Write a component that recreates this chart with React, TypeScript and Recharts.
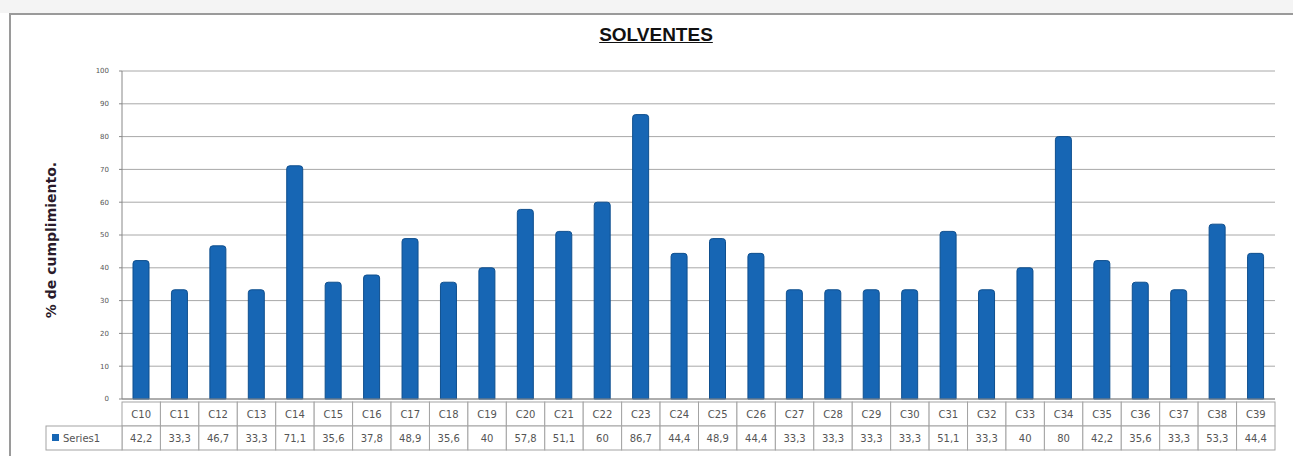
import { BarChart, Bar, XAxis, YAxis, CartesianGrid } from "recharts";

const categories = [
  "C10", "C11", "C12", "C13", "C14", "C15", "C16", "C17", "C18", "C19",
  "C20", "C21", "C22", "C23", "C24", "C25", "C26", "C27", "C28", "C29",
  "C30", "C31", "C32", "C33", "C34", "C35", "C36", "C37", "C38", "C39",
];

const series1 = [
  42.2, 33.3, 46.7, 33.3, 71.1, 35.6, 37.8, 48.9, 35.6, 40,
  57.8, 51.1, 60, 86.7, 44.4, 48.9, 44.4, 33.3, 33.3, 33.3,
  33.3, 51.1, 33.3, 40, 80, 42.2, 35.6, 33.3, 53.3, 44.4,
];

const yTicks = [0, 10, 20, 30, 40, 50, 60, 70, 80, 90, 100];

const seriesName = "Series1";
const chartTitle = "SOLVENTES";
const yTitle = "% de cumplimiento.";

const W = 1293;
const H = 456;
const PLOT_LEFT = 122;
const PLOT_RIGHT = 1275;
const BAND = (PLOT_RIGHT - PLOT_LEFT) / categories.length;

const BLUE = "#1766b4";
const BORDER = "#a3a3a3";

const fmt = (v: number) =>
  Number.isInteger(v) ? String(v) : v.toFixed(1).replace(".", ",");

const data = categories.map((name, i) => ({ name, value: series1[i] }));

function TableTick(props: any) {
  const { x, payload, index } = props;
  const left = x - BAND / 2;
  const top = 402;
  const rowH = 24;
  return (
    <g>
      <rect x={left} y={top} width={BAND} height={rowH} fill="#fff" stroke={BORDER} strokeWidth={1} />
      <rect x={left} y={top + rowH} width={BAND} height={rowH} fill="#fff" stroke={BORDER} strokeWidth={1} />
      <text x={x} y={top + 16} textAnchor="middle" fontSize={10} fill="#555" fontFamily="DejaVu Sans">
        {payload.value}
      </text>
      <text x={x} y={top + rowH + 16} textAnchor="middle" fontSize={10} fill="#555" fontFamily="DejaVu Sans">
        {fmt(series1[index])}
      </text>
      {index === 0 ? (
        <g>
          <rect x={left - 76} y={top + rowH} width={76} height={rowH} fill="#fff" stroke={BORDER} strokeWidth={1} />
          <rect x={left - 70} y={top + rowH + 8} width={7} height={7} fill={BLUE} />
          <text x={left - 59} y={top + rowH + 16} fontSize={10} fill="#555" fontFamily="DejaVu Sans">
            {seriesName}
          </text>
        </g>
      ) : null}
    </g>
  );
}

function YTitle() {
  return (
    <text
      x={56}
      y={240}
      transform="rotate(-90 56 240)"
      textAnchor="middle"
      fontSize={14}
      fontWeight="bold"
      fill="#2a1a2a"
      fontFamily="DejaVu Sans"
    >
      {yTitle}
    </text>
  );
}

export default function App() {
  return (
    <div
      style={{
        position: "fixed",
        left: 0,
        top: 0,
        width: W,
        height: H,
        background: "#fff",
        overflow: "hidden",
      }}
    >
      <div style={{ position: "absolute", left: 0, top: 0, width: W, height: 13, background: "#f4f4f4" }} />
      <div style={{ position: "absolute", left: 9, top: 13, width: W - 9, height: 2, background: "#9a9a9a" }} />
      <div style={{ position: "absolute", left: 9, top: 13, width: 2, height: H - 13, background: "#9a9a9a" }} />
      <div
        style={{
          position: "absolute",
          left: 0,
          top: 24,
          width: 1312,
          textAlign: "center",
          fontFamily: "'Liberation Sans', Arial, sans-serif",
          fontWeight: "bold",
          fontSize: 19,
          textDecoration: "underline",
          color: "#111",
        }}
      >
        {chartTitle}
      </div>
      <BarChart
        width={W}
        height={H}
        data={data}
        margin={{ top: 71, right: W - PLOT_RIGHT, left: 0, bottom: 5 }}
        barSize={16}
      >
        <CartesianGrid vertical={false} stroke="#a8a8a8" />
        <YAxis
          width={PLOT_LEFT}
          domain={[0, 100]}
          ticks={yTicks}
          interval={0}
          tickSize={3}
          tickMargin={10}
          stroke="#888"
          tick={{ fontSize: 7, fill: "#555", fontFamily: "DejaVu Sans" }}
          label={<YTitle />}
        />
        <XAxis
          dataKey="name"
          height={52}
          interval={0}
          tickLine={false}
          stroke="#888"
          tick={<TableTick />}
        />
        <Bar
          dataKey="value"
          name={seriesName}
          fill={BLUE}
          stroke="#0f4f8e"
          strokeWidth={1}
          radius={[3, 3, 0, 0]}
          isAnimationActive={false}
        />
      </BarChart>
    </div>
  );
}
